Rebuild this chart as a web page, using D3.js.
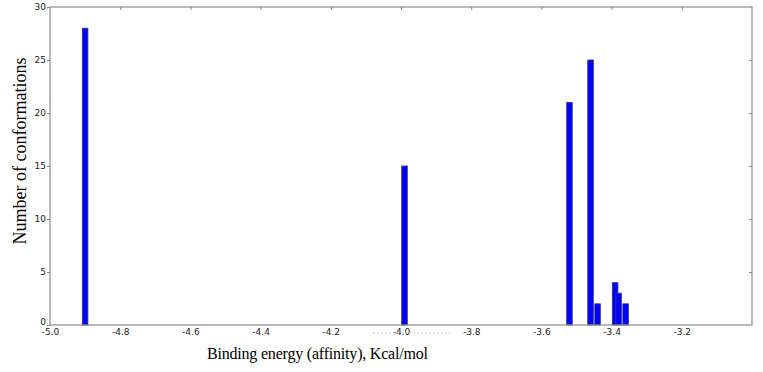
<!DOCTYPE html>
<html>
<head>
<meta charset="utf-8">
<script src="https://cdn.jsdelivr.net/npm/d3@7"></script>
<style>
  body { margin: 0; background: #fff; }
  .tick text { font-family: "DejaVu Sans", sans-serif; font-size: 9px; fill: #222; }
</style>
</head>
<body>
<svg id="chart"></svg>
<script>
// binding energies (bin centres) and counts
const energies = [-4.90, -3.99, -3.52, -3.46, -3.44, -3.39, -3.38, -3.36]
const counts = [28, 15, 21, 25, 2, 4, 3, 2]
const xTicks = [-5.0, -4.8, -4.6, -4.4, -4.2, -4.0, -3.8, -3.6, -3.4, -3.2]
const yTicks = [0, 5, 10, 15, 20, 25, 30]

const W = 763
const H = 372
const margin = {top: 7, right: 11, bottom: 47, left: 50}
const width = W - margin.left - margin.right
const height = H - margin.top - margin.bottom
const binWidth = 0.016

const svg = d3.select('#chart')
  .attr('width', W)
  .attr('height', H)

const g = svg.append('g')
  .attr('transform', `translate(${margin.left}, ${margin.top})`)

const x = d3.scaleLinear().domain([-5.0, -3.0]).range([0, width])
const y = d3.scaleLinear().domain([0, 30]).range([height, 0])

// bars
g.selectAll('.bar')
  .data(energies)
  .join('rect')
  .attr('class', 'bar')
  .attr('x', (d) => x(d - binWidth / 2))
  .attr('width', x(binWidth) - x(0))
  .attr('y', (d, i) => y(counts[i]))
  .attr('height', (d, i) => y(0) - y(counts[i]))
  .attr('fill', '#0000ff')
  .attr('stroke', '#3a3a7a')
  .attr('stroke-width', 0.8)

// frame
g.append('rect')
  .attr('width', width)
  .attr('height', height)
  .attr('fill', 'none')
  .attr('stroke', '#8a8a8a')
  .attr('stroke-width', 1.2)

// x axis (plain hyphen minus like the original)
const xAxis = g.append('g')
  .attr('transform', `translate(0, ${height})`)
  .call(d3.axisBottom(x).tickValues(xTicks).tickSize(0).tickPadding(4).tickFormat((d) => d.toFixed(1)))
xAxis.select('.domain').remove()

// top ticks, pointing in
const topAxis = g.append('g')
  .call(d3.axisBottom(x).tickValues(xTicks.slice(1)).tickSize(3).tickFormat(''))
topAxis.select('.domain').remove()
topAxis.selectAll('line').attr('stroke', '#8a8a8a')

// y axis
const yAxis = g.append('g')
  .call(d3.axisLeft(y).tickValues(yTicks).tickSize(3).tickPadding(1))
yAxis.select('.domain').remove()
yAxis.selectAll('line').attr('stroke', '#8a8a8a')
// lift the "0" a little so it sits just above "-5.0"
yAxis.selectAll('.tick text').filter((d) => d === 0).attr('dy', '-0.05em')

// right ticks, pointing in
const rightAxis = g.append('g')
  .attr('transform', `translate(${width}, 0)`)
  .call(d3.axisRight(y).tickValues(yTicks.slice(1, -1)).tickSize(-3).tickFormat(''))
rightAxis.select('.domain').remove()
rightAxis.selectAll('line').attr('stroke', '#8a8a8a')

// faint dotted remnant under -4.0
g.append('line')
  .attr('x1', x(-4.08))
  .attr('x2', x(-3.86))
  .attr('y1', height + 8)
  .attr('y2', height + 8)
  .attr('stroke', '#c8c8c8')
  .attr('stroke-dasharray', '2,2')

// axis titles
svg.append('text')
  .attr('transform', `translate(26, 151) rotate(-90)`)
  .attr('text-anchor', 'middle')
  .style('font-family', '"Liberation Serif", "Times New Roman", serif')
  .style('font-size', '18px')
  .text('Number of conformations')

svg.append('text')
  .attr('x', 207)
  .attr('y', 359)
  .style('font-family', '"Liberation Serif", "Times New Roman", serif')
  .style('font-size', '16px')
  .style('letter-spacing', '-0.2px')
  .text('Binding energy (affinity), Kcal/mol')
</script>
</body>
</html>
